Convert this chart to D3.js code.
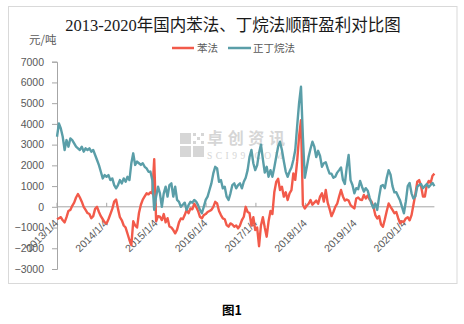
<!DOCTYPE html>
<html><head><meta charset="utf-8">
<script src="https://cdn.jsdelivr.net/npm/d3@7"></script>
<style>body{margin:0;background:#fff}svg{display:block}</style>
</head><body><svg id="c" width="464" height="324"></svg>
<script>
const title = "2013-2020年国内苯法、丁烷法顺酐盈利对比图";
const unitLabel = "元/吨";
const seriesNames = ["苯法", "正丁烷法"];
const startDate = "2013-01-04";
const stepDays = 14;
const yTicks = [-3000,-2000,-1000,0,1000,2000,3000,4000,5000,6000,7000];
const xTickLabels = ["2013/1/4","2014/1/4","2015/1/4","2016/1/4","2017/1/4","2018/1/4","2019/1/4","2020/1/4"];
const benzene = [-600,-550,-500,-650,-750,-500,-200,-150,50,200,450,620,450,250,0,-150,-300,-350,-550,-450,
-100,0,-250,-450,-600,-750,-800,-600,-350,-100,250,350,-100,-500,-650,-900,-1000,-1300,-1600,-1850,
-700,-900,-1000,-300,100,350,500,650,600,700,650,2300,-700,-450,-480,-640,-350,-750,-550,-950,
-1000,-1120,-1280,-1100,-750,-560,-600,-400,-150,-310,-80,-120,150,0,-200,-480,-560,-400,-350,-250,
-200,-150,0,240,160,-200,-400,-560,-600,-880,-960,-800,-850,-960,-900,-1040,-900,-640,-480,0,
-250,-300,-900,-500,-1120,-1000,-1900,-900,-500,-1000,-1440,-700,-200,-350,700,1200,1350,810,970,490,
700,330,650,800,1610,1300,2200,3400,4180,100,-80,50,150,330,100,200,300,150,490,650,
250,810,200,-100,-450,-250,0,150,490,810,500,300,350,300,80,0,-80,400,450,350,
330,570,400,550,350,250,0,-400,-560,-450,-850,-960,-600,-200,160,0,-150,-310,-250,-550,
-800,-700,-720,-560,-500,-650,-400,100,600,1210,1290,1000,500,500,1050,1250,1150,1500,1600];
const butane = [3380,4020,3780,3380,2740,3220,2900,3300,3220,3060,2900,2820,2740,2900,2660,2820,2740,2820,2660,2740,
2500,2260,2010,1690,1370,1530,1450,1530,1290,1370,1050,890,1050,1290,1130,1370,1210,1450,1290,2100,
2580,2020,2180,2100,2020,2100,1930,1850,1690,1700,1290,-150,500,970,650,0,650,970,490,1050,
1130,490,970,330,240,0,100,200,-150,80,240,200,330,250,80,-150,-310,0,330,490,
810,1130,1610,1930,1850,1210,1290,890,970,490,330,650,1050,1130,890,1050,1130,890,1210,1400,
1770,2400,2740,2100,1770,2000,2600,3000,2300,1650,1930,1450,1770,1450,1900,2400,2900,3140,2740,2200,
1700,1450,1700,1900,2260,2740,3900,5000,5790,3380,1400,1900,2410,2800,3140,2900,2400,2700,2450,1930,
2100,2150,1850,1600,1600,1400,1450,1650,1770,1900,1300,1100,1900,2500,1290,1050,650,900,850,1250,
970,730,900,780,450,150,-60,160,-150,490,1000,1050,900,1400,1770,1550,1000,700,700,500,
300,0,-310,250,1000,1150,650,400,500,970,1050,1100,900,1000,1100,950,1050,1150,1000];

const svg = d3.select("#c");
const parse = d3.timeParse("%Y-%m-%d");
const parseTick = d3.timeParse("%Y/%m/%d");
const t0 = parse(startDate);
const dates = benzene.map((_, i) => d3.timeDay.offset(t0, i * stepDays));

const x = d3.scaleTime().domain([parseTick("2013/1/4"), parseTick("2020/1/4")]).range([57, 405]);
const y = d3.scaleLinear().domain([-3000, 7000]).range([269, 61.7]);

// frame
svg.append("rect").attr("x", 8.5).attr("y", 6.5).attr("width", 448.5).attr("height", 277)
  .attr("fill", "#fff").attr("stroke", "#d9d9d9").attr("stroke-width", 1);

// title
svg.append("text").attr("x", 233).attr("y", 31).attr("text-anchor", "middle")
  .style("font-family", "'Liberation Serif', 'DejaVu Serif', 'Noto Sans CJK SC'").style("font-size", "16.5px")
  .attr("fill", "#1a1a1a").text(title);

svg.append("text").attr("x", 29).attr("y", 44)
  .style("font-family", "'Noto Sans CJK SC'").style("font-size", "11.5px")
  .attr("fill", "#595959").text(unitLabel);

// watermark
const wm = svg.append("g").attr("fill", "#d6d6d6");
wm.append("rect").attr("x", 180).attr("y", 133).attr("width", 11).attr("height", 11);
wm.append("rect").attr("x", 180).attr("y", 146).attr("width", 11).attr("height", 11);
wm.append("rect").attr("x", 193).attr("y", 146).attr("width", 11).attr("height", 11);
[[193,133],[197,137],[201,133],[193,141],[201,141]].forEach(p =>
  wm.append("rect").attr("x", p[0]).attr("y", p[1]).attr("width", 3).attr("height", 3));
wm.append("text").attr("x", 207).attr("y", 144).style("font-family", "'Noto Sans CJK SC'")
  .style("font-size", "16px").style("font-weight", "bold").attr("textLength", 78).text("卓创资讯");
wm.append("text").attr("x", 207).attr("y", 159).style("font-family", "'Liberation Serif'")
  .style("font-size", "9.5px").attr("textLength", 76).text("SCI99.COM");

// legend
const colors = ["#F25A4A", "#5A9EA8"];
const legendPos = [[172, 194, 197], [228, 251, 253]];
seriesNames.forEach((n, i) => {
  const p = legendPos[i];
  svg.append("line").attr("x1", p[0]).attr("x2", p[1]).attr("y1", 48).attr("y2", 48)
    .attr("stroke", colors[i]).attr("stroke-width", 2.5);
  svg.append("text").attr("x", p[2]).attr("y", 52).style("font-family", "'Noto Sans CJK SC'")
    .style("font-size", "10.5px").attr("fill", "#595959").text(n);
});

// y axis
const yAxis = svg.append("g").attr("transform", "translate(57,0)")
  .call(d3.axisLeft(y).tickValues(yTicks).tickSize(5).tickPadding(8).tickFormat(d3.format("d")));
yAxis.select(".domain").attr("stroke", "#a6a6a6");
yAxis.selectAll(".tick line").attr("stroke", "#a6a6a6");
yAxis.selectAll("text").style("font-family", "'Liberation Sans'").style("font-size", "10.5px").attr("fill", "#595959");

// x axis at zero
const y0 = y(0);
const xTickDates = xTickLabels.map(s => parseTick(s));
svg.append("line").attr("x1", 57).attr("x2", x(dates[dates.length - 1])).attr("y1", y0).attr("y2", y0)
  .attr("stroke", "#a6a6a6");
const xg = svg.append("g");
xTickDates.forEach((d, i) => {
  xg.append("line").attr("x1", x(d)).attr("x2", x(d)).attr("y1", y0 - 4).attr("y2", y0).attr("stroke", "#a6a6a6");
  xg.append("text").attr("transform", `translate(${x(d) + 2},${y0 + 17}) rotate(-45)`)
    .attr("text-anchor", "end").style("font-family", "'Liberation Sans'").style("font-size", "10.5px")
    .attr("fill", "#595959").text(xTickLabels[i]);
});

// lines
const line = d3.line().x((d, i) => x(dates[i])).y(d => y(d));
[benzene, butane].forEach((s, i) => {
  svg.append("path").datum(s).attr("d", line).attr("fill", "none")
    .attr("stroke", colors[i]).attr("stroke-width", 2.4).attr("stroke-linejoin", "round");
});

svg.append("text").attr("x", 232).attr("y", 315).attr("text-anchor", "middle")
  .style("font-family", "'Noto Sans CJK SC'").style("font-size", "12.5px").style("font-weight", "bold")
  .attr("fill", "#000").text("图1");
</script></body></html>
